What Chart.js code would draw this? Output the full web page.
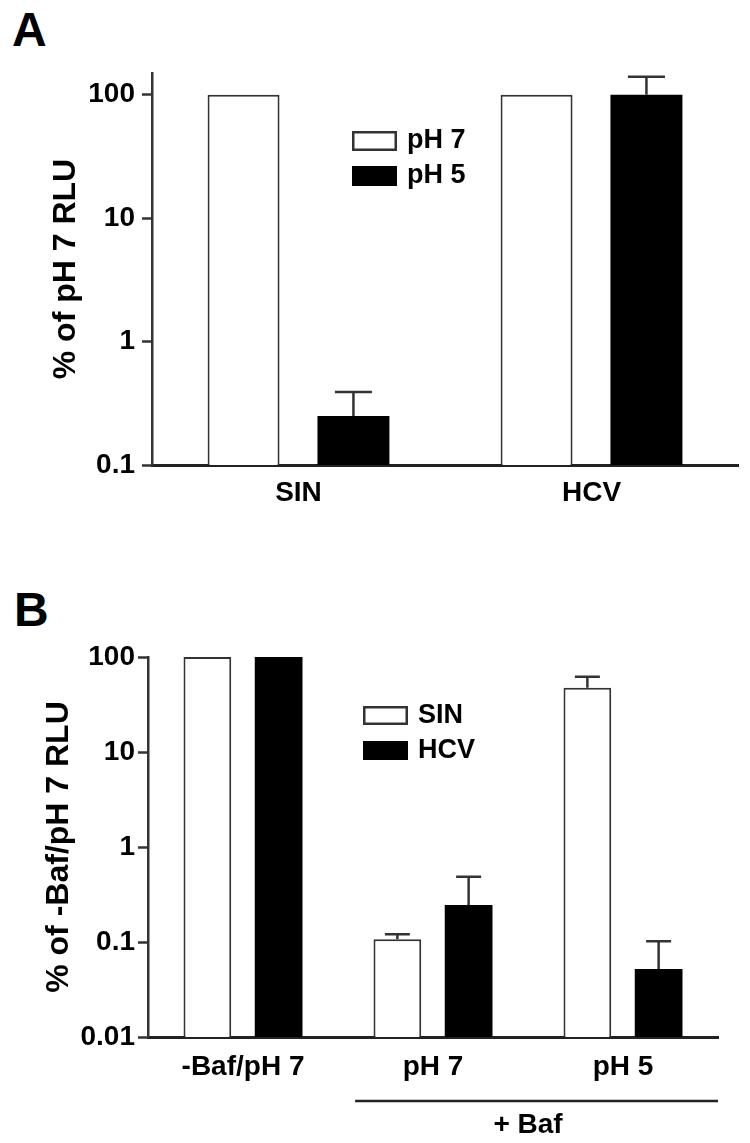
<!DOCTYPE html>
<html>
<head>
<meta charset="utf-8">
<script src="https://cdn.jsdelivr.net/npm/chart.js@4.4.1/dist/chart.umd.min.js"></script>
<style>
  body { margin: 0; background: #fff; }
  #wrap { position: relative; width: 750px; height: 1143px; background: #fff; font-family: "Liberation Sans", Arial, sans-serif; }
  .panel { position: absolute; font-weight: bold; font-size: 48px; line-height: 1; }
  canvas { position: absolute; left: 0; }
</style>
</head>
<body>
<div id="wrap">
  <div class="panel" style="left:12px;top:6px">A</div>
  <canvas id="chartA" width="750" height="530" style="top:0"></canvas>
  <div class="panel" style="left:14px;top:586px">B</div>
  <canvas id="chartB" width="750" height="583" style="top:560px"></canvas>
</div>
<script>
const FONT = '"Liberation Sans", Arial, sans-serif';

// panel A
const groupsA = ['SIN', 'HCV'];
const ph7A = [100, 100];
const ph5A = [0.25, 100];
const ph5ErrA = [0.14, 40];
const ticksA = [0.1, 1, 10, 100];

// panel B
const groupsB = ['-Baf/pH 7', 'pH 7', 'pH 5'];
const sinB = [100, 0.107, 47.5];
const sinErrB = [0, 0.014, 14.5];
const hcvB = [100, 0.245, 0.052];
const hcvErrB = [0, 0.24, 0.05];
const ticksB = [0.01, 0.1, 1, 10, 100];

const boldFont = size => ({ family: FONT, size: size, weight: 'bold' });

// upper error bars only, like the original
const errorBars = {
    id: 'errorBars',
    afterDatasetsDraw(chart, args, opts) {
        const ctx = chart.ctx, yScale = chart.scales.y;
        chart.data.datasets.forEach((ds, i) => {
            if (!ds.errors) return;
            chart.getDatasetMeta(i).data.forEach((bar, j) => {
                const err = ds.errors[j];
                if (!err) return;
                const top = yScale.getPixelForValue(ds.data[j] + err);
                ctx.save();
                ctx.strokeStyle = '#333';
                ctx.lineWidth = 2.5;
                ctx.beginPath();
                ctx.moveTo(bar.x, bar.y);
                ctx.lineTo(bar.x, top);
                ctx.moveTo(bar.x - opts.cap / 2, top);
                ctx.lineTo(bar.x + opts.cap / 2, top);
                ctx.stroke();
                ctx.restore();
            });
        });
    }
};

const boxLegend = {
    id: 'boxLegend',
    afterDraw(chart, args, o) {
        const ctx = chart.ctx;
        ctx.save();
        chart.data.datasets.forEach((ds, i) => {
            const top = o.y + i * o.gap;
            ctx.fillStyle = ds.backgroundColor;
            ctx.fillRect(o.x, top, o.w, o.h);
            ctx.strokeStyle = ds.borderColor;
            ctx.lineWidth = 2.5;
            ctx.strokeRect(o.x + 1.25, top + 1.25, o.w - 2.5, o.h - 2.5);
            ctx.fillStyle = '#000';
            ctx.font = 'bold 27px ' + FONT;
            ctx.textAlign = 'left';
            ctx.textBaseline = 'middle';
            ctx.fillText(ds.label, o.x + o.w + 10, top + o.h / 2);
        });
        ctx.restore();
    }
};

const bafBracket = {
    id: 'bafBracket',
    afterDraw(chart, args, o) {
        const ctx = chart.ctx, x = chart.scales.x;
        const step = x.getPixelForValue(1) - x.getPixelForValue(0);
        const left = x.getPixelForValue(o.from) - step * 0.41;
        const right = chart.chartArea.right;
        ctx.save();
        ctx.strokeStyle = '#222';
        ctx.lineWidth = 2.5;
        ctx.beginPath();
        ctx.moveTo(left, o.lineY);
        ctx.lineTo(right, o.lineY);
        ctx.stroke();
        ctx.fillStyle = '#000';
        ctx.font = 'bold 28px ' + FONT;
        ctx.textAlign = 'center';
        ctx.textBaseline = 'middle';
        const mid = (x.getPixelForValue(o.from) + x.getPixelForValue(o.to)) / 2;
        ctx.fillText(o.text, mid, o.textY);
        ctx.restore();
    }
};

function escalas(ticksList, min, max, titulo, titlePad, yWidth, xPad, labelPad) {
    return {
        x: {
            grid: { display: false, drawTicks: false },
            border: { display: true, color: '#222', width: 3 },
            ticks: { color: '#000', font: boldFont(28), padding: xPad },
            afterFit: s => { s.height = 50; }
        },
        y: {
            type: 'logarithmic',
            min: min,
            max: max,
            grid: { drawOnChartArea: false, drawTicks: true, tickLength: 10, tickWidth: 2.5, tickColor: '#333' },
            border: { color: '#333', width: 2.5 },
            afterBuildTicks: s => { s.ticks = ticksList.map(v => ({ value: v })); },
            ticks: { color: '#000', font: boldFont(28), padding: labelPad, callback: v => String(v) },
            title: { display: true, text: titulo, color: '#000', font: boldFont(32), padding: { top: titlePad, bottom: 0 } },
            afterFit: s => { s.width = yWidth; }
        }
    };
}

new Chart(document.getElementById('chartA'), {
    type: 'bar',
    data: {
        labels: groupsA,
        datasets: [
            { label: 'pH 7', data: ph7A, backgroundColor: '#fff', borderColor: '#333', borderWidth: 2,
              categoryPercentage: 0.75, barPercentage: 0.655 },
            { label: 'pH 5', data: ph5A, errors: ph5ErrA, backgroundColor: '#000', borderColor: '#000', borderWidth: 0,
              categoryPercentage: 0.75, barPercentage: 0.655 }
        ]
    },
    options: {
        responsive: false,
        animation: false,
        devicePixelRatio: 1,
        layout: { padding: { top: 73, right: 12, left: 0, bottom: 15 } },
        plugins: {
            legend: { display: false },
            tooltip: { enabled: false },
            errorBars: { cap: 37 },
            boxLegend: { x: 352, y: 131, w: 45, h: 20, gap: 35 }
        },
        scales: escalas(ticksA, 0.1, 150, '% of pH 7 RLU', 47, 152, 11, 7)
    },
    plugins: [errorBars, boxLegend]
});

new Chart(document.getElementById('chartB'), {
    type: 'bar',
    data: {
        labels: groupsB,
        datasets: [
            { label: 'SIN', data: sinB, errors: sinErrB, backgroundColor: '#fff', borderColor: '#333', borderWidth: 2,
              categoryPercentage: 0.75, barPercentage: 0.67 },
            { label: 'HCV', data: hcvB, errors: hcvErrB, backgroundColor: '#000', borderColor: '#000', borderWidth: 0,
              categoryPercentage: 0.75, barPercentage: 0.67 }
        ]
    },
    options: {
        responsive: false,
        animation: false,
        devicePixelRatio: 1,
        layout: { padding: { top: 97, right: 32, left: 0, bottom: 56 } },
        plugins: {
            legend: { display: false },
            tooltip: { enabled: false },
            errorBars: { cap: 25 },
            boxLegend: { x: 363, y: 146, w: 45, h: 19, gap: 35 },
            bafBracket: { from: 1, to: 2, lineY: 541, textY: 565, text: '+ Baf' }
        },
        scales: escalas(ticksB, 0.01, 100, '% of -Baf/pH 7 RLU', 40, 148, 13, 3)
    },
    plugins: [errorBars, boxLegend, bafBracket]
});
</script>
</body>
</html>
